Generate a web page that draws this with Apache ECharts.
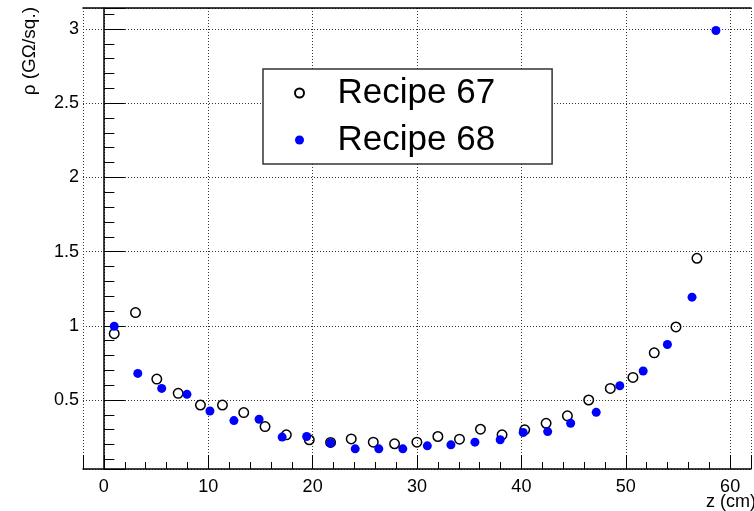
<!DOCTYPE html>
<html>
<head>
<meta charset="utf-8">
<script src="https://cdn.jsdelivr.net/npm/echarts@6/dist/echarts.min.js"></script>
<style>
	html, body { margin: 0; padding: 0; background: #fff; }
	#chart { width: 754px; height: 511px; }
</style>
</head>
<body>
<div id="chart"></div>
<script>
// Recipe 67 (open circles)
var z67   = [0.99, 3.03, 5.07, 7.12, 9.25, 11.36, 13.4, 15.44, 17.48, 19.68, 21.72, 23.7, 25.81, 27.85,
             29.99, 32.0, 34.07, 36.08, 38.15, 40.32, 42.37, 44.41, 46.45, 48.52, 50.69, 52.73, 54.81, 56.82];
var rho67 = [0.947, 1.089, 0.641, 0.545, 0.466, 0.466, 0.415, 0.321, 0.265, 0.232, 0.214, 0.238, 0.216, 0.205,
             0.216, 0.254, 0.236, 0.303, 0.265, 0.299, 0.343, 0.393, 0.5, 0.578, 0.652, 0.818, 0.992, 1.455];

// Recipe 68 (blue dots)
var z68   = [0.99, 3.25, 5.54, 7.96, 10.16, 12.46, 14.87, 17.08, 19.43, 21.72, 24.08, 26.34, 28.64,
             30.99, 33.25, 35.55, 37.97, 40.17, 42.52, 44.72, 47.17, 49.43, 51.67, 53.99, 56.35, 58.64];
var rho68 = [0.997, 0.679, 0.578, 0.538, 0.426, 0.361, 0.370, 0.25, 0.254, 0.21, 0.171, 0.171, 0.171,
             0.191, 0.198, 0.216, 0.232, 0.281, 0.287, 0.343, 0.417, 0.596, 0.695, 0.874, 1.193, 2.99];

var seriesNames = ['Recipe 67', 'Recipe 68'];

// axis ranges
var xMin = -2, xMax = 62, xMajor = 10, xMinor = 2;
var yMin = 0.035, yMax = 3.1415, yMajor = 0.5;

var font = '"Liberation Sans", Arial, Helvetica, sans-serif';

function pairs(xs, ys){
	return xs.map(function(x, i){ return [x, ys[i]]; });
}
function isMultiple(v, step){
	var r = v / step;
	return Math.abs(r - Math.round(r)) < 1e-6;
}

var dotted = { show: true, lineStyle: { color: '#333', width: 1, type: [1, 2] } };

var myChart = echarts.init(document.getElementById('chart'));
myChart.setOption({
	backgroundColor: '#fff',
	animation: false,
	grid: { left: 83, top: 8, width: 679, height: 461 },
	legend: {
		left: 263, top: 69,
		orient: 'vertical',
		padding: [4, 57, 4, 31],
		itemWidth: 66, itemHeight: 9, itemGap: 7,
		borderColor: '#333', borderWidth: 1.5,
		backgroundColor: '#fff',
		textStyle: { fontFamily: font, fontSize: 35, color: '#000', lineHeight: 28, padding: [0, 0, 12, 0] },
		data: seriesNames
	},
	xAxis: [
		{	// major ticks, labels, grid
			type: 'value', min: xMin, max: xMax, splitNumber: 6, position: 'bottom',
			axisLine: { show: true, lineStyle: { color: '#000', width: 1.5 } },
			axisTick: { show: true, inside: true, length: 14, lineStyle: { color: '#000', width: 1 } },
			axisLabel: {
				margin: 9, fontFamily: font, fontSize: 18, color: '#000',
				formatter: function(v){ return isMultiple(v, xMajor) ? String(v) : ''; }
			},
			splitLine: dotted
		},
		{	// minor ticks
			type: 'value', min: xMin, max: xMax, interval: xMinor, position: 'bottom',
			axisLine: { show: false },
			axisTick: { show: true, inside: true, length: 7, lineStyle: { color: '#000', width: 1 } },
			axisLabel: { show: false },
			splitLine: { show: false }
		},
		{	// top frame
			type: 'value', min: xMin, max: xMax, position: 'top',
			axisLine: { show: true, lineStyle: { color: '#000', width: 1.5 } },
			axisTick: { show: false }, axisLabel: { show: false }, splitLine: { show: false }
		}
	],
	yAxis: [
		{
			type: 'value', min: yMin, max: yMax, splitNumber: 6, position: 'left',
			axisLine: { show: true, lineStyle: { color: '#000', width: 1.5 } },
			axisTick: { show: true, inside: true, length: 21, lineStyle: { color: '#000', width: 1 } },
			axisLabel: {
				margin: 4, fontFamily: font, fontSize: 18, color: '#000',
				formatter: function(v){ return isMultiple(v, yMajor) ? String(v) : ''; }
			},
			splitLine: dotted
		},
		{	// minor ticks (0.1)
			type: 'value', min: yMin, max: yMax, splitNumber: 31, position: 'left',
			axisLine: { show: false },
			axisTick: { show: true, inside: true, length: 10.5, lineStyle: { color: '#000', width: 1 } },
			axisLabel: { show: false },
			splitLine: { show: false }
		}
	],
	graphic: [
		{
			type: 'text', x: 30, y: 7, rotation: Math.PI / 2,
			style: { text: 'ρ (GΩ/sq.)', fontFamily: font, fontSize: 19, fill: '#000',
				align: 'right', verticalAlign: 'middle' }
		},
		{
			type: 'text', x: 756, y: 502,
			style: { text: 'z (cm)', fontFamily: font, fontSize: 18, fill: '#000',
				align: 'right', verticalAlign: 'middle' }
		}
	],
	series: [
		{
			name: seriesNames[0], type: 'scatter', xAxisIndex: 0, yAxisIndex: 0,
			symbol: 'circle', symbolSize: 9.5,
			itemStyle: { color: 'rgba(0,0,0,0)', borderColor: '#000', borderWidth: 1.5, opacity: 1 },
			data: pairs(z67, rho67)
		},
		{
			name: seriesNames[1], type: 'scatter', xAxisIndex: 0, yAxisIndex: 0,
			symbol: 'circle', symbolSize: 9,
			itemStyle: { color: '#0000ff', opacity: 1 },
			data: pairs(z68, rho68)
		}
	]
});
</script>
</body>
</html>
